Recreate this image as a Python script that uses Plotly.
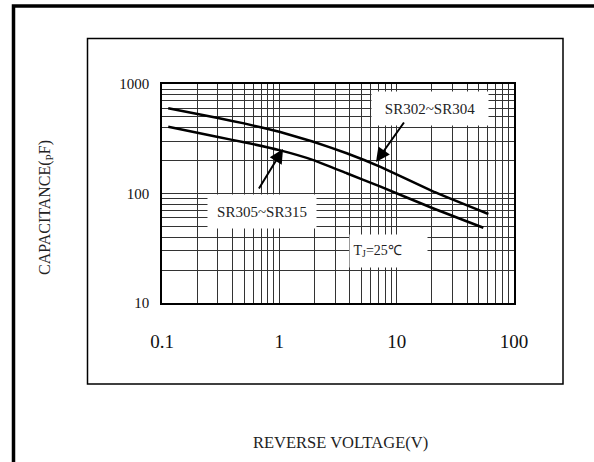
import plotly.graph_objects as go

# Data (reverse voltage V, capacitance pF)
v_sr302 = [0.113, 0.3, 0.5, 1.0, 1.95, 3.75, 7.2, 20.6, 60.5]
c_sr302 = [600, 489, 437, 366, 297, 233, 176, 104, 65]
v_sr305 = [0.113, 0.3, 0.5, 1.0, 1.95, 3.75, 7.2, 20.6, 54.8]
c_sr305 = [407, 328, 294, 249, 202, 153, 116, 73, 48.7]

x_decades = [0.1, 1, 10, 100]
x_labels = ["0.1", "1", "10", "100"]
y_decades = [10, 100, 1000]
y_labels = ["10", "100", "1000"]

FONT = "Liberation Serif"

def grid_vals(decades):
    vals = []
    for d in decades[:-1]:
        for k in range(1, 10):
            vals.append(round(d * k, 6))
    vals.append(decades[-1])
    return vals

xv = grid_vals(x_decades)
yv = grid_vals(y_decades)
xt = [x_labels[x_decades.index(v)] if v in x_decades else "" for v in xv]
yt = [y_labels[y_decades.index(v)] if v in y_decades else "" for v in yv]

fig = go.Figure()
for vx, cy in [(v_sr302, c_sr302), (v_sr305, c_sr305)]:
    fig.add_trace(go.Scatter(x=vx, y=cy, mode="lines",
                             line=dict(color="black", width=2.5, shape="spline", smoothing=0.3),
                             showlegend=False, hoverinfo="skip"))

# plot area px: x 162..514, y 84..303
L, R, T, B = 162, 514, 84, 303
W, H = R - L, B - T
def px(x): return (x - L) / W
def py(y): return (B - y) / H

fig.update_layout(
    width=594, height=462,
    margin=dict(l=L, r=594 - R, t=T, b=462 - B),
    paper_bgcolor="white", plot_bgcolor="white",
    font=dict(family=FONT, color="black"),
    xaxis=dict(type="log", range=[-1, 2], tickvals=xv, ticktext=xt,
               showgrid=True, gridcolor="#333", gridwidth=1,
               showline=True, linecolor="black", linewidth=1.5, mirror=True,
               ticks="", ticklabelstandoff=20,
               tickfont=dict(family=FONT, size=19, color="#111"), zeroline=False),
    yaxis=dict(type="log", range=[1, 3], tickvals=yv, ticktext=yt,
               showgrid=True, gridcolor="#333", gridwidth=1,
               showline=True, linecolor="black", linewidth=1.5, mirror=True,
               ticks="", ticklabelstandoff=8,
               tickfont=dict(family=FONT, size=15, color="#111"), zeroline=False),
)

shapes = [
    # outer frame (thick, left & top visible)
    dict(type="rect", xref="paper", yref="paper",
         x0=px(13.5), x1=px(620), y0=py(490), y1=py(6),
         line=dict(color="black", width=3.5), fillcolor="rgba(0,0,0,0)", layer="below"),
    # inner frame
    dict(type="rect", xref="paper", yref="paper",
         x0=px(87.5), x1=px(563), y0=py(384), y1=py(38.5),
         line=dict(color="black", width=1.5), fillcolor="rgba(0,0,0,0)", layer="below"),
]
fig.update_layout(shapes=shapes)

C = dict(xanchor="center", yanchor="middle")
ann = []
# label boxes (white background masks grid)
ann.append(dict(xref="paper", yref="paper", x=px(430), y=py(108.5), text="SR302~SR304",
                showarrow=False, bgcolor="white", width=116, height=33, borderpad=0,
                font=dict(family=FONT, size=15, color="#222"), **C))
ann.append(dict(xref="paper", yref="paper", x=px(262), y=py(211.5), text="SR305~SR315",
                showarrow=False, bgcolor="white", width=108, height=33, borderpad=0,
                font=dict(family=FONT, size=15, color="#222"), **C))
ann.append(dict(xref="paper", yref="paper", x=px(388.5), y=py(251), text="&nbsp;T<sub>J</sub>=25℃",
                showarrow=False, bgcolor="white", width=77, height=32, borderpad=0, align="left",
                font=dict(family=FONT, size=14, color="#222"), **C))
# arrows
ann.append(dict(x=0.0315, y=2.406, xref="x", yref="y", text="", showarrow=True,
                ax=-25, ay=41, arrowhead=2, arrowsize=1.4, arrowwidth=2, arrowcolor="black"))
ann.append(dict(x=0.824, y=2.288, xref="x", yref="y", text="", showarrow=True,
                ax=29, ay=-41, arrowhead=2, arrowsize=1.4, arrowwidth=2, arrowcolor="black"))
# axis titles
ann.append(dict(xref="paper", yref="paper", x=px(45), y=py(208), text="CAPACITANCE(<sub>P</sub>F)",
                textangle=-90, showarrow=False, font=dict(family=FONT, size=16, color="#222"), **C))
ann.append(dict(xref="paper", yref="paper", x=px(340), y=py(442), text="REVERSE VOLTAGE(V)",
                showarrow=False, font=dict(family=FONT, size=16.5, color="#222"), **C))
fig.update_layout(annotations=ann)

fig.write_html("out.html", config={"displayModeBar": False},
               post_script="document.body.style.margin='0';document.body.style.overflow='hidden';")
